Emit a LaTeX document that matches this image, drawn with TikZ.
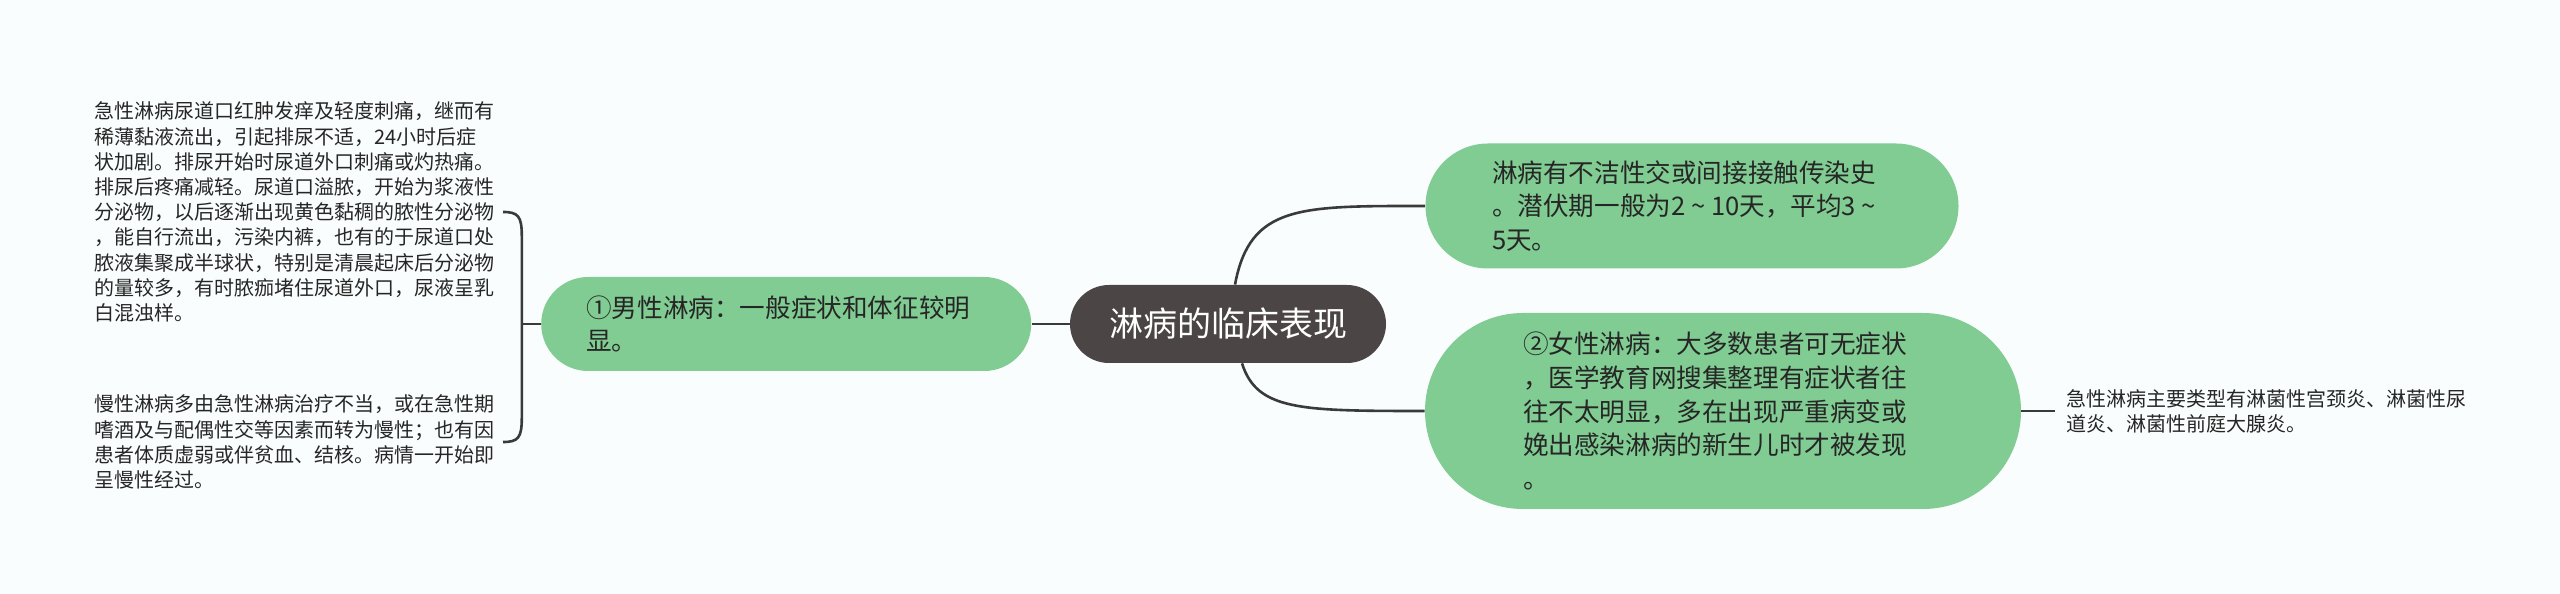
\documentclass[tikz,border=0pt]{standalone}
\usepackage{fontspec}
\setmainfont{Noto Sans CJK SC}
\usepackage{tikz}
\usetikzlibrary{positioning}

\definecolor{mapgreen}{RGB}{128,204,146}
\definecolor{mapdark}{RGB}{75,69,69}
\definecolor{mapline}{RGB}{58,58,58}
\definecolor{mapbg}{RGB}{250,253,253}

% small tilde set in a full-width box
\newcommand{\rangetilde}{\makebox[1em]{\textasciitilde}}

\begin{document}
\begin{tikzpicture}[
        x=0.5pt, y=0.5pt,
        topic/.style={rectangle, fill=mapdark, text=white, inner sep=0pt,
                      minimum width=158pt, minimum height=39pt,
                      rounded corners=19.5pt, font=\fontsize{17}{20}\selectfont},
        subtopic/.style={rectangle, fill=mapgreen, text=black!85, inner sep=0pt,
                      text width=200pt, align=left,
                      font=\fontsize{12.8}{16.8}\selectfont},
        leaf/.style={text=black!85, inner ysep=2pt, inner xsep=4pt,
                     text width=200pt, align=left,
                     font=\fontsize{10}{12.6}\selectfont},
        branch/.style={draw=mapline, line width=1.3pt},
    ]

    % canvas
    \fill[mapbg] (0,0) rectangle (2560,594);

    % Nodes - central topic and main branches
    \node[topic] (root) at (1228,270) {淋病的临床表现};
    \node[subtopic, left=19pt of root, minimum width=245pt, minimum height=47pt,
          rounded corners=23.5pt] (male)
        {①男性淋病：一般症状和体征较明\\显。};
    \node[subtopic, minimum width=266.5pt, minimum height=62.5pt,
          rounded corners=31.25pt] (history) at (1692,388)
        {淋病有不洁性交或间接接触传染史\\。潜伏期一般为2\rangetilde10天，平均3\rangetilde\\5天。};
    \node[subtopic, minimum width=298pt, minimum height=98pt,
          rounded corners=49pt] (female) at (1723,183)
        {②女性淋病：大多数患者可无症状\\，医学教育网搜集整理有症状者往\\往不太明显，多在出现严重病变或\\娩出感染淋病的新生儿时才被发现\\。};

    % Leaves (left side)
    \node[leaf, anchor=east] (acute) at (503,382)
        {急性淋病尿道口红肿发痒及轻度刺痛，继而有\\稀薄黏液流出，引起排尿不适，24小时后症\\状加剧。排尿开始时尿道外口刺痛或灼热痛。\\排尿后疼痛减轻。尿道口溢脓，开始为浆液性\\分泌物，以后逐渐出现黄色黏稠的脓性分泌物\\，能自行流出，污染内裤，也有的于尿道口处\\脓液集聚成半球状，特别是清晨起床后分泌物\\的量较多，有时脓痂堵住尿道外口，尿液呈乳\\白混浊样。};
    \node[leaf, anchor=east] (chronic) at (503,152)
        {慢性淋病多由急性淋病治疗不当，或在急性期\\嗜酒及与配偶性交等因素而转为慢性；也有因\\患者体质虚弱或伴贫血、结核。病情一开始即\\呈慢性经过。};

    % Leaf (right side)
    \node[leaf, inner xsep=5.5pt, right=17pt of female] (types)
        {急性淋病主要类型有淋菌性宫颈炎、淋菌性尿\\道炎、淋菌性前庭大腺炎。};

    % Connectors
    \draw[branch] (male.east) -- (root.west);
    \draw[branch] ([xshift=3.5pt]root.north) .. controls +(15,80) and +(-125,0) .. (history.west);
    \draw[branch] ([xshift=7pt]root.south) .. controls +(15,-47) and +(-125,0) .. (female.west);
    \draw[branch] (female.east) -- (types.west);

    % Bracket to the left leaves
    \coordinate (hub) at ([xshift=-9.5pt]male.west);
    \draw[branch] (hub) -- (male.west);
    \draw[branch] (acute.east) .. controls +(15,0) and +(0,20) .. ([yshift=-12pt]acute.east -| hub)
        -- ([yshift=12pt]chronic.east -| hub) .. controls +(0,-20) and +(15,0) .. (chronic.east);

\end{tikzpicture}
\end{document}
